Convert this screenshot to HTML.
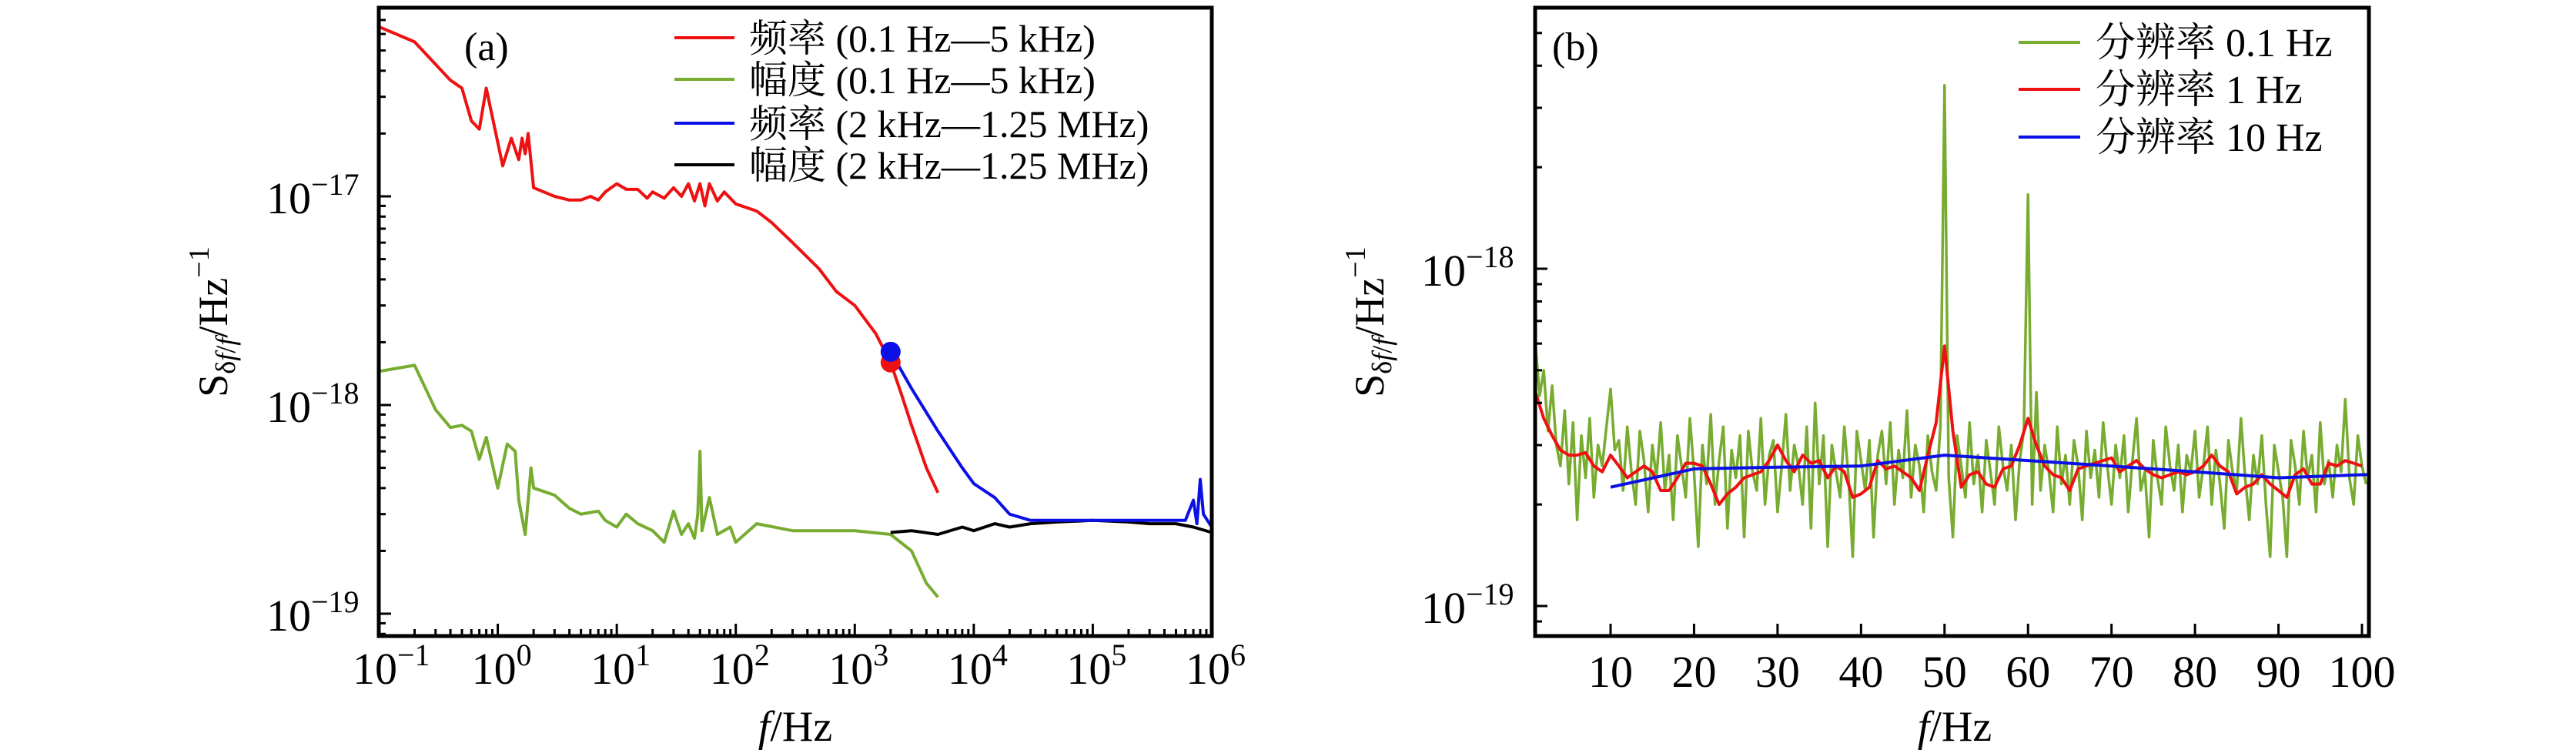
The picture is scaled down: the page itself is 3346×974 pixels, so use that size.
<!DOCTYPE html>
<html><head><meta charset="utf-8"><style>
html,body{margin:0;padding:0;background:#fff;}
svg{display:block;font-family:"Liberation Serif","Noto Serif CJK SC",serif;}
</style></head><body>
<svg id="c" width="3346" height="974" viewBox="0 0 3346 974" xmlns="http://www.w3.org/2000/svg">
<rect width="3346" height="974" fill="#fff"/>
<g id="pa"></g>
<g id="pb"></g>
</svg>
<script>
// ---------- Panel (a) data (values in 1e-18) ----------
const aRedF=[0.1,0.2,0.4,0.5,0.6,0.7,0.8,1.1,1.3,1.5,1.6,1.7,1.8,2,3,4,5,6,7,8,10,12,15,18,20,25,30,35,40,45,50,55,60,70,80,100,150,200,300,500,700,1000,1500,2000,2500,3000,4000,5000];
const aRedV=[65,55,36,33,23,21,33,14,19,15,19,16,20,11,10,9.6,9.6,10,9.6,10.5,11.5,10.8,10.8,9.8,10.5,9.8,11,10,11.5,9.5,11.5,9,11.5,9.5,10.5,9.2,8.5,7.5,6,4.5,3.5,3.0,2.2,1.6,1.1,0.8,0.5,0.38];
const aGreenF=[0.1,0.2,0.3,0.4,0.5,0.6,0.7,0.8,1.0,1.2,1.4,1.5,1.7,1.9,2,3,4,5,7,8,10,12,15,20,25,30,35,40,45,48,50,52,60,70,90,100,150,300,1000,2000,3000,4000,5000];
const aGreenV=[1.45,1.55,0.95,0.78,0.8,0.75,0.55,0.7,0.4,0.65,0.6,0.35,0.24,0.5,0.4,0.37,0.32,0.3,0.31,0.28,0.26,0.3,0.27,0.25,0.22,0.31,0.24,0.27,0.23,0.3,0.6,0.25,0.36,0.24,0.26,0.22,0.27,0.25,0.25,0.24,0.2,0.14,0.12];
const aBlueF=[2000,3000,5000,8000,10000,15000,20000,30000,50000,100000,300000,600000,700000,750000,800000,850000,1000000];
const aBlueV=[1.8,1.2,0.75,0.5,0.42,0.36,0.3,0.28,0.28,0.28,0.28,0.28,0.35,0.27,0.44,0.3,0.26];
const aBlackF=[2000,3000,5000,8000,10000,15000,20000,30000,50000,100000,200000,300000,500000,700000,1000000];
const aBlackV=[0.245,0.25,0.24,0.26,0.25,0.27,0.26,0.27,0.275,0.28,0.275,0.27,0.27,0.26,0.245];
const aMarkF=[2000,2000];
const aMarkV=[1.6,1.8];
const aXTicks=[-1,0,1,2,3,4,5,6];
const aYTicks=[-19,-18,-17];
const aLegend=["频率 (0.1 Hz—5 kHz)","幅度 (0.1 Hz—5 kHz)","频率 (2 kHz—1.25 MHz)","幅度 (2 kHz—1.25 MHz)"];
// ---------- Panel (b) data (values in 1e-19) ----------
const bGreenV=[6.0,4.2,5.0,3.3,4.5,3.0,2.6,3.8,2.3,3.5,1.8,3.2,2.4,3.6,2.1,3.0,2.6,3.4,4.4,2.9,
3.1,2.2,3.4,2.5,2.0,3.3,2.7,1.9,3.0,2.4,3.5,2.2,2.8,1.8,3.2,2.6,2.1,3.6,2.5,1.5,
3.0,2.3,3.7,2.0,2.7,3.4,1.7,2.9,2.4,3.2,1.6,3.3,2.5,2.2,3.6,2.0,2.8,3.1,1.9,2.6,
3.7,2.2,3.0,2.6,2.0,3.4,1.7,4.0,2.3,3.2,1.5,3.0,2.5,2.1,3.4,2.4,1.4,3.3,2.7,2.2,
3.1,1.6,2.8,3.3,2.3,3.5,2.0,2.9,2.4,3.8,2.1,3.0,2.6,1.9,3.2,2.5,2.2,3.4,35,2.4,
1.6,3.2,2.6,2.1,3.5,2.3,2.8,1.9,3.1,2.5,2.0,3.4,2.6,2.2,3.0,1.8,2.7,3.3,16.6,2.0,
4.3,2.2,3.0,2.5,1.9,3.4,2.3,2.8,2.0,3.1,2.6,1.8,3.3,2.4,2.9,2.1,3.5,2.6,2.0,3.0,
2.4,3.2,1.9,2.7,3.6,2.2,2.5,1.6,3.1,2.4,2.0,3.4,2.6,2.2,3.0,1.9,2.8,2.5,3.3,2.1,
2.6,3.4,2.0,2.9,2.3,1.7,3.1,2.5,2.2,3.6,2.4,1.8,2.8,2.3,3.2,2.0,1.4,3.0,2.5,2.1,
1.4,3.1,2.6,2.0,3.3,2.4,2.8,1.9,3.5,2.3,2.7,2.1,3.0,2.5,4.1,2.4,2.0,3.2,2.6,2.3];
const bGreenStart=1.0, bGreenStep=0.5;
const bRedV=[4.3,3.6,3.2,2.9,2.8,2.8,2.85,2.6,2.5,2.8,2.6,2.4,2.5,2.6,2.5,2.2,2.2,2.4,2.65,2.65,2.6,2.3,2.0,2.15,2.25,2.4,2.45,2.5,2.7,3.0,2.7,2.5,2.8,2.65,2.7,2.4,2.6,2.5,2.1,2.15,2.25,2.7,2.55,2.6,2.5,2.4,2.2,2.8,3.5,5.9,3.3,2.25,2.45,2.5,2.3,2.25,2.55,2.6,3.0,3.6,3.0,2.6,2.45,2.4,2.2,2.55,2.6,2.65,2.7,2.75,2.5,2.6,2.7,2.55,2.45,2.4,2.45,2.5,2.45,2.5,2.6,2.8,2.6,2.5,2.15,2.25,2.3,2.45,2.3,2.2,2.1,2.45,2.55,2.3,2.3,2.65,2.6,2.7,2.65,2.6];
const bRedStart=1, bRedStep=1;
const bBlueF=[10,20,30,40,50,60,70,80,90,100,100.8];
const bBlueV=[2.25,2.55,2.58,2.6,2.8,2.7,2.6,2.5,2.4,2.45,2.45];
const bXTicks=[10,20,30,40,50,60,70,80,90,100];
const bYTicks=[-19,-18];
const bLegend=["分辨率 0.1 Hz","分辨率 1 Hz","分辨率 10 Hz"];

const NS="http://www.w3.org/2000/svg";
function mk(parent,tag,attrs){const e=document.createElementNS(NS,tag);for(const k in attrs)e.setAttribute(k,attrs[k]);parent.appendChild(e);return e;}
const RED="#ee1111",GREEN="#77ac30",BLUE="#0b11e6",BLACK="#000";
const TF=58, SF=40;

function yTitle(parent,x,name){
  const t=mk(parent,'text',{x:0,y:0,"font-size":54,"text-anchor":"middle",transform:"translate("+x+",418) rotate(-90)"});
  
  
  const s=mk(t,'tspan',{});s.textContent="S";
  const sub=mk(t,'tspan',{"font-size":36,dy:10});sub.textContent="δ";
  const sub2=mk(t,'tspan',{"font-size":36,"font-style":"italic"});sub2.textContent="f";
  const sub3=mk(t,'tspan',{"font-size":36});sub3.textContent="/";
  const sub4=mk(t,'tspan',{"font-size":36,"font-style":"italic"});sub4.textContent="f";
  const r=mk(t,'tspan',{dy:-10});r.textContent="/Hz";
  const sp=mk(t,'tspan',{dy:-24,"font-size":38});sp.textContent="−1";
}

// ---------- Panel A scales ----------
const A={l:492,r:1574,t:10,b:826,xmin:-1,xmax:6,y17:255,dec:271};
function axX(f){return A.l+(Math.log10(f)-A.xmin)/(A.xmax-A.xmin)*(A.r-A.l);}
function ayLog(lg){return A.y17-(lg+17)*A.dec;}
function ayV(v){return ayLog(Math.log10(v*1e-18));}
const pa=document.getElementById('pa');
function lineA(F,V,color,name){
  let d="";for(let i=0;i<F.length;i++){d+=(i?"L":"M")+axX(F[i]).toFixed(1)+","+ayV(V[i]).toFixed(1);}
  const p=mk(pa,'path',{d:d,fill:"none",stroke:color,"stroke-width":4,"stroke-linejoin":"round"});
  
  
}
lineA(aGreenF,aGreenV,GREEN,'series-amplitude-low');
lineA(aBlackF,aBlackV,BLACK,'series-amplitude-high');
lineA(aRedF,aRedV,RED,'series-frequency-low');
lineA(aBlueF,aBlueV,BLUE,'series-frequency-high');
{const c1=mk(pa,'circle',{cx:axX(aMarkF[0]),cy:ayV(aMarkV[0]),r:13,fill:RED});


const c2=mk(pa,'circle',{cx:axX(aMarkF[1]),cy:ayV(aMarkV[1]),r:13,fill:BLUE});

}
{const fr=mk(pa,'rect',{x:A.l,y:A.t,width:A.r-A.l,height:A.b-A.t,fill:"none",stroke:"#000","stroke-width":5});

}
for(let e=A.xmin;e<=A.xmax;e++){
  const x=axX(Math.pow(10,e));
  mk(pa,'line',{x1:x,y1:A.b,x2:x,y2:A.b-16,stroke:"#000","stroke-width":3});
  if(e<A.xmax){for(let m=2;m<10;m++){const xm=axX(m*Math.pow(10,e));mk(pa,'line',{x1:xm,y1:A.b,x2:xm,y2:A.b-9,stroke:"#000","stroke-width":3});}}
}
aXTicks.forEach(e=>{
  const x=axX(Math.pow(10,e));
  const t=mk(pa,'text',{x:x-34,y:888,"font-size":TF});
  
  
  t.textContent="10";
  const s=mk(t,'tspan',{dy:-24,"font-size":SF});s.textContent=(e<0?"−":"")+Math.abs(e);
});
for(let e=-20;e<=-16;e++){
  for(let m=1;m<10;m++){const lg=Math.log10(m)+e;const y=ayLog(lg);if(y<A.t||y>A.b)continue;
    mk(pa,'line',{x1:A.l,y1:y,x2:A.l+(m==1?16:9),y2:y,stroke:"#000","stroke-width":3});}
}
aYTicks.forEach(e=>{
  const y=ayLog(e);
  const t=mk(pa,'text',{x:346,y:y+22,"font-size":TF});
  
  
  t.textContent="10";
  const s=mk(t,'tspan',{dy:-24,"font-size":SF});s.textContent="−"+Math.abs(e);
});
{const t=mk(pa,'text',{x:603,y:78,"font-size":52});t.textContent="(a)";
}
{const t=mk(pa,'text',{x:1033,y:962,"font-size":56,"text-anchor":"middle"});

const i=mk(t,'tspan',{"font-style":"italic"});i.textContent="f";const r=mk(t,'tspan',{});r.textContent="/Hz";}
yTitle(pa,295,'y-axis-title-a');
const aLegCol=[RED,GREEN,BLUE,BLACK];
const aLegY=[49,103,160,214];
aLegend.forEach((s,i)=>{
  const g=mk(pa,'g',{});
  
  
  mk(g,'line',{x1:876,y1:aLegY[i],x2:954,y2:aLegY[i],stroke:aLegCol[i],"stroke-width":4});
  const t=mk(g,'text',{x:973,y:aLegY[i]+18,"font-size":50});t.textContent=s;
});

// ---------- Panel B ----------
const B={l:1994,r:3077,t:10,b:826,y18:349,dec:438};
const bscale=(3068-2092)/90;
function bxX(f){return 2092+(f-10)*bscale;}
function byLog(lg){return B.y18-(lg+18)*B.dec;}
function byV(v){return byLog(Math.log10(v*1e-19));}
const pb=document.getElementById('pb');
mk(pb,'clipPath',{id:"clipb"});
mk(document.getElementById('clipb'),'rect',{x:B.l,y:B.t,width:B.r-B.l,height:B.b-B.t});
function lineB(F,V,color,w,name){
  let d="";for(let i=0;i<F.length;i++){d+=(i?"L":"M")+bxX(F[i]).toFixed(1)+","+byV(V[i]).toFixed(1);}
  const p=mk(pb,'path',{d:d,fill:"none",stroke:color,"stroke-width":w,"stroke-linejoin":"round","clip-path":"url(#clipb)"});
  
  
}
lineB(bGreenV.map((v,i)=>bGreenStart+i*bGreenStep),bGreenV,GREEN,3.5,'series-res-0.1hz');
lineB(bRedV.map((v,i)=>bRedStart+i*bRedStep),bRedV,RED,4,'series-res-1hz');
lineB(bBlueF,bBlueV,BLUE,4,'series-res-10hz');
{const fr=mk(pb,'rect',{x:B.l,y:B.t,width:B.r-B.l,height:B.b-B.t,fill:"none",stroke:"#000","stroke-width":5});
}
bXTicks.forEach(v=>{
  const x=bxX(v);
  mk(pb,'line',{x1:x,y1:B.b,x2:x,y2:B.b-16,stroke:"#000","stroke-width":3});
  const t=mk(pb,'text',{x:x,y:892,"font-size":TF,"text-anchor":"middle"});
  
  
  t.textContent=v;
});
for(let e=-20;e<=-17;e++){
  for(let m=1;m<10;m++){const y=byLog(Math.log10(m)+e);if(y<B.t||y>B.b)continue;
    mk(pb,'line',{x1:B.l,y1:y,x2:B.l+(m==1?16:9),y2:y,stroke:"#000","stroke-width":3});}
}
bYTicks.forEach(e=>{
  const y=byLog(e);
  const t=mk(pb,'text',{x:1846,y:y+22,"font-size":TF});
  
  
  t.textContent="10";
  const s=mk(t,'tspan',{dy:-24,"font-size":SF});s.textContent="−"+Math.abs(e);
});
{const t=mk(pb,'text',{x:2016,y:78,"font-size":52});t.textContent="(b)";
}
{const t=mk(pb,'text',{x:2539,y:962,"font-size":56,"text-anchor":"middle"});

const i=mk(t,'tspan',{"font-style":"italic"});i.textContent="f";const r=mk(t,'tspan',{});r.textContent="/Hz";}
yTitle(pb,1797,'y-axis-title-b');
const bLegCol=[GREEN,RED,BLUE];
const bLegY=[55,116,178];
bLegend.forEach((s,i)=>{
  const g=mk(pb,'g',{});
  
  
  mk(g,'line',{x1:2622,y1:bLegY[i],x2:2702,y2:bLegY[i],stroke:bLegCol[i],"stroke-width":4});
  const t=mk(g,'text',{x:2722,y:bLegY[i]+18,"font-size":52});t.textContent=s;
});
</script>
</body></html>
